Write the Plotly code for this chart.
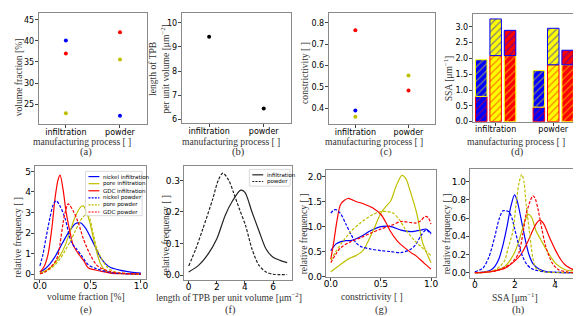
import plotly.graph_objects as go

W, H = 581, 316

processes = ["infiltration", "powder"]

# (a) volume fraction [%]
vf_nickel = [40.1, 22.3]
vf_pore = [22.9, 35.6]
vf_gdc = [37.0, 42.0]

# (b) length of TPB per unit volume
tpb_length = [9.42, 6.45]

# (c) constrictivity
con_nickel = [0.39, None]
con_pore = [0.36, 0.553]
con_gdc = [0.765, 0.483]

# (d) SSA per interface
ssa_ni_gdc = [0.80, 0.46]
ssa_ni_pore = [1.16, 1.155]
ssa_pore_gdc = [2.09, 1.80]

# (e) volume fraction distributions
e_x_ni_inf = [0.0, 0.05, 0.1, 0.15, 0.2, 0.25, 0.3, 0.35, 0.4, 0.45, 0.5, 0.55, 0.6, 0.65, 0.7, 0.8, 0.9, 1.0]
e_y_ni_inf = [0.1, 0.25, 0.5, 0.85, 1.3, 1.75, 2.15, 2.45, 2.5, 2.25, 1.8, 1.3, 0.8, 0.5, 0.32, 0.18, 0.1, 0.05]
e_x_pore_inf = [0.0, 0.05, 0.1, 0.15, 0.2, 0.25, 0.3, 0.35, 0.4, 0.43, 0.47, 0.5, 0.55, 0.6, 0.65, 0.7, 0.8, 0.9, 1.0]
e_y_pore_inf = [0.05, 0.15, 0.3, 0.55, 0.9, 1.4, 2.1, 2.8, 3.25, 3.32, 2.9, 2.4, 1.3, 0.5, 0.15, 0.06, 0.03, 0.01, 0.0]
e_x_gdc_inf = [0.0, 0.04, 0.08, 0.12, 0.15, 0.18, 0.2, 0.23, 0.26, 0.3, 0.33, 0.38, 0.43, 0.48, 0.55, 0.6, 0.7, 0.8, 1.0]
e_y_gdc_inf = [0.1, 0.35, 0.95, 2.3, 3.7, 4.6, 4.82, 4.1, 3.0, 2.0, 1.4, 1.0, 0.68, 0.3, 0.2, 0.15, 0.05, 0.02, 0.0]
e_x_ni_pow = [0.0, 0.03, 0.06, 0.1, 0.13, 0.16, 0.2, 0.25, 0.31, 0.36, 0.41, 0.48, 0.55, 0.6, 0.7, 0.8, 0.9, 1.0]
e_y_ni_pow = [0.4, 0.95, 1.75, 2.75, 3.35, 3.58, 3.3, 2.7, 1.56, 1.24, 0.92, 0.45, 0.28, 0.2, 0.08, 0.03, 0.01, 0.0]
e_x_pore_pow = [0.0, 0.05, 0.1, 0.15, 0.2, 0.25, 0.3, 0.35, 0.4, 0.45, 0.48, 0.53, 0.56, 0.6, 0.66, 0.73, 0.8, 0.9, 1.0]
e_y_pore_pow = [0.02, 0.1, 0.25, 0.45, 0.75, 1.15, 1.6, 2.1, 2.6, 2.88, 2.85, 1.9, 1.3, 0.85, 0.37, 0.13, 0.06, 0.02, 0.01]
e_x_gdc_pow = [0.0, 0.05, 0.1, 0.15, 0.18, 0.2, 0.23, 0.25, 0.28, 0.33, 0.38, 0.43, 0.5, 0.56, 0.6, 0.7, 0.8, 0.9, 1.0]
e_y_gdc_pow = [0.02, 0.1, 0.3, 0.6, 0.92, 1.5, 2.5, 3.0, 3.42, 3.07, 2.5, 1.72, 0.92, 0.45, 0.3, 0.12, 0.05, 0.02, 0.01]

# (f) TPB length distributions
f_x_inf = [0, 0.7, 1.4, 2.0, 2.6, 3.1, 3.7, 4.0, 4.5, 5.0, 5.5, 6.0, 6.5, 7.0]
f_y_inf = [0.01, 0.031, 0.068, 0.115, 0.19, 0.234, 0.269, 0.262, 0.2, 0.14, 0.083, 0.057, 0.047, 0.04]
f_x_pow = [0, 0.5, 1.0, 1.7, 2.1, 2.43, 2.85, 3.2, 3.6, 4.05, 4.5, 5.0, 5.5, 6.0, 6.5, 7.0]
f_y_pow = [0.029, 0.083, 0.146, 0.24, 0.3, 0.323, 0.3, 0.26, 0.21, 0.156, 0.083, 0.031, 0.01, 0.003, 0.002, 0.002]

# (g) constrictivity distributions
g_x_ni_inf = [0, 0.05, 0.1, 0.15, 0.2, 0.3, 0.4, 0.5, 0.6, 0.7, 0.8, 0.9, 0.95, 1.0]
g_y_ni_inf = [0.52, 0.65, 0.7, 0.72, 0.72, 0.8, 0.92, 1.0, 1.0, 0.93, 0.9, 0.93, 0.95, 0.87]
g_x_pore_inf = [0, 0.1, 0.18, 0.25, 0.32, 0.42, 0.5, 0.55, 0.6, 0.65, 0.71, 0.75, 0.79, 0.86, 0.91, 0.95, 1.0]
g_y_pore_inf = [0.1, 0.25, 0.36, 0.42, 0.52, 0.91, 1.27, 1.4, 1.52, 1.8, 2.02, 1.95, 1.72, 1.24, 0.72, 0.5, 0.28]
g_x_gdc_inf = [0, 0.03, 0.06, 0.1, 0.17, 0.25, 0.33, 0.42, 0.5, 0.55, 0.59, 0.66, 0.73, 0.8, 0.86, 0.93, 1.0]
g_y_gdc_inf = [0.35, 0.7, 1.1, 1.45, 1.56, 1.5, 1.45, 1.37, 1.24, 1.08, 0.92, 0.72, 0.59, 0.48, 0.4, 0.27, 0.15]
g_x_ni_pow = [0, 0.03, 0.06, 0.1, 0.15, 0.2, 0.25, 0.3, 0.4, 0.5, 0.6, 0.7, 0.8, 0.85, 0.9, 0.95, 1.0]
g_y_ni_pow = [1.27, 1.33, 1.33, 1.25, 1.05, 0.85, 0.68, 0.6, 0.55, 0.52, 0.5, 0.48, 0.55, 0.65, 0.82, 0.93, 0.85]
g_x_pore_pow = [0, 0.05, 0.1, 0.2, 0.3, 0.42, 0.5, 0.56, 0.62, 0.68, 0.74, 0.83, 0.9, 1.0]
g_y_pore_pow = [0.33, 0.5, 0.65, 0.9, 1.08, 1.24, 1.3, 1.3, 1.27, 1.15, 0.96, 0.73, 0.6, 0.42]
g_x_gdc_pow = [0, 0.05, 0.1, 0.2, 0.3, 0.4, 0.5, 0.6, 0.7, 0.8, 0.85, 0.9, 0.94, 0.97, 1.0]
g_y_gdc_pow = [0.28, 0.45, 0.58, 0.7, 0.78, 0.87, 0.95, 1.02, 1.1, 1.08, 1.07, 1.12, 1.2, 1.18, 1.05]

# (h) SSA distributions
h_x_ni_inf = [0, 0.5, 0.8, 1.0, 1.2, 1.4, 1.6, 1.8, 1.98, 2.1, 2.3, 2.5, 2.7, 2.9, 3.2, 3.6, 4.0, 5.0]
h_y_ni_inf = [0.0, 0.01, 0.03, 0.07, 0.15, 0.3, 0.5, 0.73, 0.855, 0.8, 0.6, 0.38, 0.2, 0.1, 0.04, 0.01, 0.005, 0.0]
h_x_pore_inf = [0, 0.5, 1.0, 1.5, 1.8, 2.0, 2.2, 2.4, 2.55, 2.69, 2.85, 3.05, 3.3, 3.55, 3.8, 4.04, 4.54, 5.0]
h_y_pore_inf = [0.0, 0.005, 0.02, 0.07, 0.15, 0.23, 0.35, 0.5, 0.6, 0.64, 0.6, 0.46, 0.36, 0.26, 0.17, 0.1, 0.03, 0.02]
h_x_gdc_inf = [0, 0.5, 1.0, 1.5, 2.0, 2.3, 2.6, 2.9, 3.1, 3.22, 3.4, 3.63, 3.8, 4.04, 4.3, 4.54, 4.95]
h_y_gdc_inf = [0.0, 0.005, 0.02, 0.05, 0.13, 0.2, 0.32, 0.47, 0.55, 0.575, 0.55, 0.44, 0.35, 0.24, 0.14, 0.08, 0.03]
h_x_ni_pow = [0, 0.4, 0.7, 1.0, 1.2, 1.4, 1.55, 1.7, 1.85, 2.0, 2.2, 2.4, 2.6, 2.8, 3.0, 3.5, 4.0, 5.0]
h_y_ni_pow = [0.01, 0.05, 0.17, 0.4, 0.58, 0.68, 0.68, 0.67, 0.6, 0.47, 0.3, 0.17, 0.09, 0.05, 0.03, 0.01, 0.005, 0.0]
h_x_pore_pow = [0, 0.5, 1.0, 1.3, 1.5, 1.65, 1.9, 2.06, 2.2, 2.34, 2.45, 2.56, 2.72, 2.89, 3.05, 3.5, 4.0, 5.0]
h_y_pore_pow = [0.0, 0.005, 0.03, 0.08, 0.14, 0.26, 0.46, 0.75, 0.98, 1.08, 1.0, 0.75, 0.46, 0.17, 0.05, 0.01, 0.003, 0.0]
h_x_gdc_pow = [0, 0.5, 1.0, 1.5, 1.8, 2.0, 2.2, 2.39, 2.56, 2.75, 2.89, 3.0, 3.15, 3.3, 3.55, 3.88, 4.2, 4.6, 5.0]
h_y_gdc_pow = [0.0, 0.005, 0.02, 0.06, 0.1, 0.15, 0.22, 0.42, 0.64, 0.78, 0.845, 0.82, 0.7, 0.53, 0.28, 0.1, 0.03, 0.01, 0.0]

BLUE, YEL, RED = "#0000ff", "#bfbf00", "#ff0000"
BYEL = "#ffff00"

fig = go.Figure()

def ax(k):
    return ("x" if k == 1 else f"x{k}"), ("y" if k == 1 else f"y{k}")

# ---- scatter panels (a)-(c)
for k, series in ((1, [(vf_nickel, BLUE), (vf_gdc, RED), (vf_pore, YEL)]),
                  (2, [(tpb_length, "black")]),
                  (3, [(con_nickel, BLUE), (con_gdc, RED), (con_pore, YEL)])):
    xa, ya = ax(k)
    for vals, col in series:
        fig.add_trace(go.Scatter(x=processes, y=vals, mode="markers",
                                 marker=dict(size=4, color=col), xaxis=xa, yaxis=ya,
                                 showlegend=False))

# ---- stacked hatched bars (d)
bar_groups = [
    (BLUE, ssa_ni_gdc, RED, ssa_ni_pore, BYEL),
    (BYEL, ssa_pore_gdc, RED, ssa_ni_pore, BLUE),
    (RED, ssa_pore_gdc, BYEL, ssa_ni_gdc, BLUE),
]
for j, (fill, low, low_h, up, up_h) in enumerate(bar_groups):
    off = -0.35 + 0.25 * j
    for vals, base, hcol in ((low, None, low_h), (up, low, up_h)):
        fig.add_trace(go.Bar(
            x=processes, y=vals, base=base, offset=off, width=0.2,
            marker=dict(color=fill, line=dict(color=hcol, width=1),
                        pattern=dict(shape="/", fgcolor=hcol, bgcolor=fill,
                                     size=5, solidity=0.25)),
            xaxis="x4", yaxis="y4", showlegend=False))

# ---- distribution panels
def lines(k, curves):
    xa, ya = ax(k)
    for xs, ys, col, dash in curves:
        fig.add_trace(go.Scatter(x=xs, y=ys, mode="lines",
                                 line=dict(color=col, width=1.2, dash=dash, shape="spline", smoothing=0.8),
                                 xaxis=xa, yaxis=ya, showlegend=False))

DASH = "3px,1.6px"
lines(5, [(e_x_ni_inf, e_y_ni_inf, BLUE, "solid"), (e_x_pore_inf, e_y_pore_inf, YEL, "solid"),
          (e_x_gdc_inf, e_y_gdc_inf, RED, "solid"), (e_x_ni_pow, e_y_ni_pow, BLUE, DASH),
          (e_x_pore_pow, e_y_pore_pow, YEL, DASH), (e_x_gdc_pow, e_y_gdc_pow, RED, DASH)])
lines(6, [(f_x_inf, f_y_inf, "#222222", "solid"), (f_x_pow, f_y_pow, "#222222", DASH)])
lines(7, [(g_x_ni_inf, g_y_ni_inf, BLUE, "solid"), (g_x_pore_inf, g_y_pore_inf, YEL, "solid"),
          (g_x_gdc_inf, g_y_gdc_inf, RED, "solid"), (g_x_ni_pow, g_y_ni_pow, BLUE, DASH),
          (g_x_pore_pow, g_y_pore_pow, YEL, DASH), (g_x_gdc_pow, g_y_gdc_pow, RED, DASH)])
lines(8, [(h_x_ni_inf, h_y_ni_inf, BLUE, "solid"), (h_x_pore_inf, h_y_pore_inf, YEL, "solid"),
          (h_x_gdc_inf, h_y_gdc_inf, RED, "solid"), (h_x_ni_pow, h_y_ni_pow, BLUE, DASH),
          (h_x_pore_pow, h_y_pore_pow, YEL, DASH), (h_x_gdc_pow, h_y_gdc_pow, RED, DASH)])

# ---- axes layout
boxes = {1: (29, 138, 5, 118), 2: (173, 283, 5, 117), 3: (321, 428, 5, 118), 4: (466, 573, 6, 115.5),
         5: (25, 137, 161, 275), 6: (175, 284, 161, 276), 7: (318, 429, 165, 273), 8: (463, 574, 164, 274)}

SERIF = "Liberation Serif"
SANS = "DejaVu Sans"
xspec = {
    1: dict(type="category", range=[-0.5, 1.5]),
    2: dict(type="category", range=[-0.5, 1.5]),
    3: dict(type="category", range=[-0.5, 1.5]),
    4: dict(type="category", range=[-0.397, 1.448]),
    5: dict(range=[-0.05, 1.05], dtick=0.5, tickformat=".1f"),
    6: dict(range=[-0.35, 7.35], dtick=2),
    7: dict(range=[-0.05, 1.05], dtick=0.5, tickformat=".1f"),
    8: dict(range=[-0.25, 5.25], dtick=2),
}
yspec = {
    1: dict(range=[20.3, 46.6], dtick=5),
    2: dict(range=[5.84, 10.41], dtick=1),
    3: dict(range=[0.326, 0.846], dtick=0.1, tickformat=".1f"),
    4: dict(range=[0, 3.41], dtick=0.5, tickformat=".1f"),
    5: dict(range=[-0.22, 5.24], dtick=1),
    6: dict(range=[-0.014, 0.344], dtick=0.1, tickformat=".1f"),
    7: dict(range=[0.0, 2.12], tick0=0.5, dtick=0.5, tickformat=".1f"),
    8: dict(range=[-0.054, 1.134], dtick=0.2, tickformat=".1f"),
}

layout = {}
for k, (x0, x1, y0, y1) in boxes.items():
    tsize = 8 if k <= 4 else 9
    common = dict(showline=True, mirror=True, linecolor="#8a8a8a", linewidth=1,
                  ticks="outside", ticklen=3, tickwidth=1, tickcolor="#444444",
                  showgrid=False, zeroline=False,
                  tickfont=dict(family=SANS, size=tsize, color="black"))
    xname = "xaxis" if k == 1 else f"xaxis{k}"
    yname = "yaxis" if k == 1 else f"yaxis{k}"
    layout[xname] = dict(common, **xspec[k], domain=[x0 / W, x1 / W],
                         anchor=("y" if k == 1 else f"y{k}"),
                         ticklabelstandoff=(-3 if k <= 4 else -4))
    layout[yname] = dict(common, **yspec[k], domain=[1 - y1 / H, 1 - y0 / H],
                         anchor=("x" if k == 1 else f"x{k}"),
                         ticklabelstandoff=(-1 if k <= 4 else -2))

annotations = []
def text(txt, px, py, size, family=SERIF, angle=0, anchor="center", color="#333333"):
    annotations.append(dict(text=txt, x=px / W, y=1 - py / H, xref="paper", yref="paper",
                            showarrow=False, xanchor=anchor, yanchor="middle", textangle=angle,
                            font=dict(family=family, size=size, color=color)))

# ---- axis titles
MANU = "manufacturing process [ ]"
RELF = "relative frequency [ ]"
x_titles = [(MANU, 72.5, 136), (MANU, 222.5, 136), (MANU, 367, 136), (MANU, 510, 136),
            ("volume fraction [%]", 77, 293.3),
            ("length of TPB per unit volume [μm<sup>−2</sup>]", 221, 293.3),
            ("constrictivity [ ]", 365, 293.3), ("SSA [μm<sup>−1</sup>]", 509, 293.3)]
for t, px, py in x_titles:
    text(t, px, py, 9.6)
y_titles = [("volume fraction [%]", 8.5, 70), ("length of TPB<br>per unit volume [μm<sup>−2</sup>]", 149.5, 62),
            ("constrictivity [ ]", 297, 66), ("SSA [μm<sup>−1</sup>]", 441, 71.5),
            (RELF, 7.5, 233), (RELF, 156.5, 231), (RELF, 295, 229), (RELF, 439, 229)]
for t, px, py in y_titles:
    text(t, px, py, 9.6, angle=-90)

# ---- panel labels
panel_labels = ["(a)", "(b)", "(c)", "(d)", "(e)", "(f)", "(g)", "(h)"]
label_pos = [(77, 146.5), (230, 146.5), (379, 146.5), (511, 146.5),
             (77, 307), (222, 307), (374, 307), (512, 307)]
for txt, (px, py) in zip(panel_labels, label_pos):
    text(txt, px, py, 10.5)

# ---- legends (drawn inside axes)
shapes = []
def legend(entries, box, x_line, x_text, y_first, step):
    bx0, by0, bx1, by1 = box
    shapes.append(dict(type="rect", xref="paper", yref="paper",
                       x0=bx0 / W, x1=bx1 / W, y0=1 - by1 / H, y1=1 - by0 / H,
                       line=dict(color="#d0d0d0", width=0.8), fillcolor="rgba(255,255,255,0.8)"))
    for i, (lab, col, dash) in enumerate(entries):
        py = y_first + i * step
        shapes.append(dict(type="line", xref="paper", yref="paper",
                           x0=x_line[0] / W, x1=x_line[1] / W, y0=1 - py / H, y1=1 - py / H,
                           line=dict(color=col, width=1.2, dash=("solid" if dash == "solid" else "2px,1.2px"))))
        text(lab, x_text, py, 5.5, family=SANS, anchor="left", color="black")

legend_e = [("nickel infiltration", BLUE, "solid"), ("pore infiltration", YEL, "solid"),
            ("GDC infiltration", RED, "solid"), ("nickel powder", BLUE, "dash"),
            ("pore powder", YEL, "dash"), ("GDC powder", RED, "dash")]
legend(legend_e, (76, 166, 133, 211), (79, 90), 92, 171.3, 7.2)
legend_f = [("infiltration", "#222222", "solid"), ("powder", "#222222", "dash")]
legend(legend_f, (241, 164, 282, 181), (244, 255), 257, 169.5, 6.8)

fig.update_layout(**layout)
fig.update_layout(width=W, height=H, margin=dict(l=0, r=0, t=0, b=0),
                  paper_bgcolor="white", plot_bgcolor="white",
                  barmode="overlay", showlegend=False,
                  annotations=annotations, shapes=shapes,
                  font=dict(family=SANS, size=8, color="black"))
fig.write_html("out.html")
